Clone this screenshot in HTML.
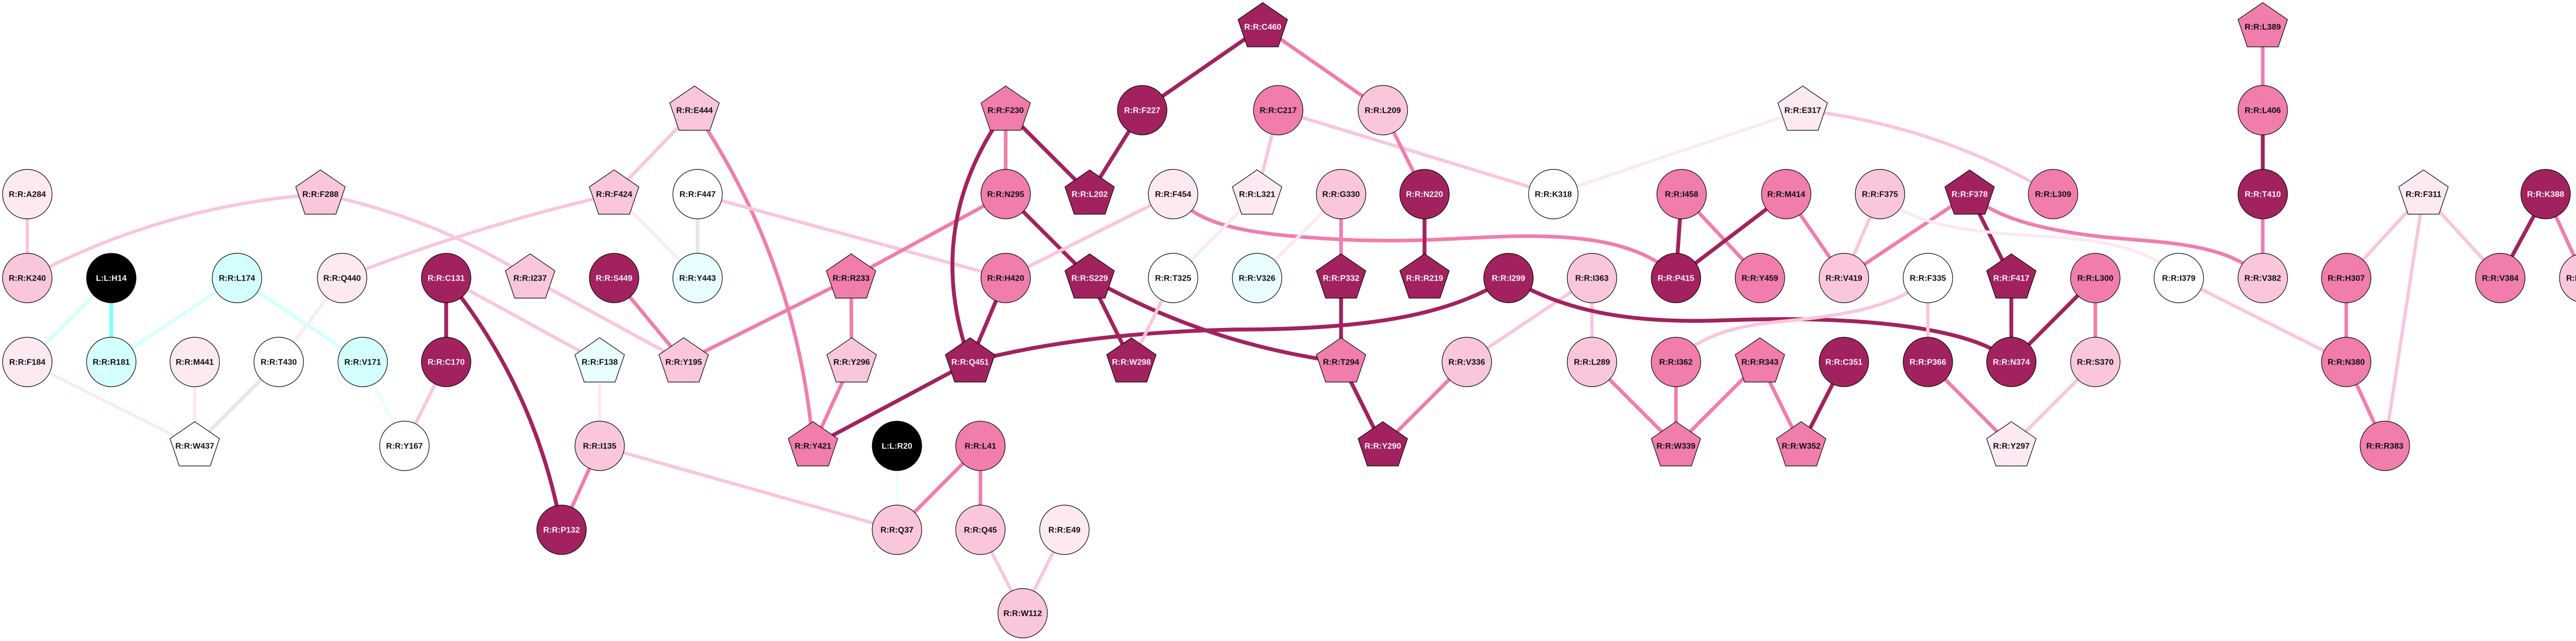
<!DOCTYPE html>
<html><head><meta charset="utf-8">
<style>
html,body{margin:0;padding:0;background:#fff;}
svg{display:block;}
text{font-family:"Liberation Sans",Arial,sans-serif;font-weight:bold;font-size:16px;text-anchor:middle;}
.d{stroke:#a2225f;stroke-width:7.5;fill:none;}
.m{stroke:#f07dab;stroke-width:7;fill:none;}
.p{stroke:#f9c6dc;stroke-width:6.5;fill:none;}
.v{stroke:#fce9f2;stroke-width:6;fill:none;}
.g{stroke:#e6e6e6;stroke-width:7;fill:none;}
.c{stroke:#80ffff;stroke-width:7.5;fill:none;}
.lc{stroke:#d4ffff;stroke-width:6.5;fill:none;}
.vc{stroke:#e9ffff;stroke-width:6;fill:none;}
circle,polygon{stroke:#000;stroke-width:1.2;}
.fd{fill:#a2225f}.fm{fill:#f07dab}.fp{fill:#f9c6dc}.fv{fill:#fce9f2}.fw{fill:#fff}.flc{fill:#d4ffff}.fvc{fill:#e9ffff}.fk{fill:#000}
.tw{fill:#f4f4f4}.tb{fill:#111}
</style></head>
<body>
<svg width="5069" height="1245" viewBox="0 0 5069 1245" xmlns="http://www.w3.org/2000/svg">
<rect width="5069" height="1245" fill="#fff" stroke="none"/>
<!-- edges -->
<line class="p" x1="53" y1="377" x2="53" y2="540"/>
<path class="p" d="M53,540 Q320,398 622,377"/>
<path class="p" d="M622,377 Q840,421 1029,540"/>
<path class="p" d="M664,540 Q922,439 1192,377"/>
<line class="v" x1="664" y1="540" x2="541" y2="703"/>
<line class="lc" x1="216" y1="540" x2="53" y2="703"/>
<line class="c" x1="216" y1="540" x2="216" y2="703"/>
<line class="lc" x1="460" y1="540" x2="216" y2="703"/>
<line class="lc" x1="460" y1="540" x2="704" y2="703"/>
<line class="v" x1="53" y1="703" x2="378" y2="866"/>
<line class="v" x1="378" y1="703" x2="378" y2="866"/>
<line class="g" x1="541" y1="703" x2="378" y2="866"/>
<line class="vc" x1="704" y1="703" x2="785" y2="866"/>
<line class="p" x1="785" y1="866" x2="866" y2="703"/>
<line class="d" x1="866" y1="540" x2="866" y2="703"/>
<path class="d" d="M866,540 Q1041,756 1090,1029"/>
<line class="p" x1="866" y1="540" x2="1164" y2="703"/>
<line class="p" x1="1029" y1="540" x2="1327" y2="703"/>
<line class="m" x1="1192" y1="540" x2="1327" y2="703"/>
<line class="m" x1="1652" y1="540" x2="1327" y2="703"/>
<line class="p" x1="1348" y1="214" x2="1192" y2="377"/>
<path class="m" d="M1348,214 Q1548,510 1578,866"/>
<line class="v" x1="1192" y1="377" x2="1354" y2="540"/>
<line class="g" x1="1354" y1="377" x2="1354" y2="540"/>
<line class="p" x1="1354" y1="377" x2="1952" y2="540"/>
<line class="m" x1="1652" y1="540" x2="1653" y2="703"/>
<line class="m" x1="1652" y1="540" x2="1952" y2="377"/>
<line class="m" x1="1653" y1="703" x2="1578" y2="866"/>
<line class="d" x1="1578" y1="866" x2="1883" y2="703"/>
<line class="v" x1="1164" y1="703" x2="1164" y2="866"/>
<line class="m" x1="1164" y1="866" x2="1090" y2="1029"/>
<line class="p" x1="1164" y1="866" x2="1741" y2="1029"/>
<line class="vc" x1="1741" y1="866" x2="1741" y2="1029"/>
<line class="m" x1="1903" y1="866" x2="1741" y2="1029"/>
<line class="m" x1="1903" y1="866" x2="1903" y2="1029"/>
<line class="p" x1="1903" y1="1029" x2="1985" y2="1191"/>
<line class="p" x1="2066" y1="1029" x2="1985" y2="1191"/>
<line class="m" x1="1952" y1="214" x2="1952" y2="377"/>
<line class="d" x1="1952" y1="214" x2="2115" y2="377"/>
<path class="d" d="M1952,214 Q1789,440 1883,703"/>
<line class="d" x1="2217" y1="214" x2="2115" y2="377"/>
<line class="d" x1="2451" y1="52" x2="2217" y2="214"/>
<line class="m" x1="2451" y1="52" x2="2684" y2="214"/>
<line class="p" x1="2481" y1="214" x2="2440" y2="377"/>
<line class="p" x1="2481" y1="214" x2="3015" y2="377"/>
<line class="d" x1="1952" y1="377" x2="2115" y2="540"/>
<line class="p" x1="1952" y1="540" x2="2277" y2="377"/>
<line class="d" x1="1952" y1="540" x2="1883" y2="703"/>
<path class="m" d="M2277,377 C2330,440 2420,455 2600,465 C2800,475 2900,450 3050,462 C3150,470 3220,500 3253,540"/>
<line class="v" x1="2440" y1="377" x2="2277" y2="540"/>
<line class="v" x1="2440" y1="540" x2="2603" y2="377"/>
<line class="d" x1="2115" y1="540" x2="2196" y2="703"/>
<path class="d" d="M2115,540 Q2343,669 2603,703"/>
<path class="d" d="M1883,703 C1990,675 2150,645 2400,640 C2700,640 2830,600 2928,540"/>
<line class="p" x1="2277" y1="540" x2="2196" y2="703"/>
<line class="m" x1="2684" y1="214" x2="2765" y2="377"/>
<line class="d" x1="2765" y1="377" x2="2765" y2="540"/>
<line class="m" x1="2603" y1="377" x2="2603" y2="540"/>
<line class="d" x1="2603" y1="540" x2="2603" y2="703"/>
<line class="d" x1="2603" y1="703" x2="2684" y2="866"/>
<line class="m" x1="2847" y1="703" x2="2684" y2="866"/>
<line class="p" x1="3090" y1="540" x2="2847" y2="703"/>
<line class="p" x1="3090" y1="540" x2="3090" y2="703"/>
<path class="d" d="M2928,540 C3030,600 3150,630 3350,622 C3550,614 3820,625 3904,703"/>
<line class="v" x1="3015" y1="377" x2="3499" y2="214"/>
<path class="p" d="M3499,214 Q3759,243 3985,377"/>
<line class="d" x1="3264" y1="377" x2="3253" y2="540"/>
<line class="m" x1="3264" y1="377" x2="3416" y2="540"/>
<line class="d" x1="3253" y1="540" x2="3467" y2="377"/>
<line class="m" x1="3467" y1="377" x2="3579" y2="540"/>
<line class="p" x1="3649" y1="377" x2="3579" y2="540"/>
<line class="m" x1="3823" y1="377" x2="3579" y2="540"/>
<line class="d" x1="3823" y1="377" x2="3904" y2="540"/>
<path class="m" d="M3823,377 C3870,420 3950,445 4080,460 C4200,472 4320,470 4392,540"/>
<path class="v" d="M3649,377 C3700,430 3800,450 3950,458 C4080,465 4170,480 4228,540"/>
<path class="p" d="M3742,540 C3680,600 3560,615 3450,625 C3350,635 3290,660 3253,703"/>
<line class="p" x1="3742" y1="540" x2="3742" y2="703"/>
<line class="m" x1="3090" y1="703" x2="3253" y2="866"/>
<line class="m" x1="3253" y1="703" x2="3253" y2="866"/>
<line class="m" x1="3416" y1="703" x2="3253" y2="866"/>
<line class="m" x1="3416" y1="703" x2="3496" y2="866"/>
<line class="d" x1="3579" y1="703" x2="3496" y2="866"/>
<line class="d" x1="3904" y1="540" x2="3904" y2="703"/>
<line class="d" x1="4067" y1="540" x2="3904" y2="703"/>
<line class="m" x1="4067" y1="540" x2="4067" y2="703"/>
<line class="m" x1="3742" y1="703" x2="3904" y2="866"/>
<line class="p" x1="4067" y1="703" x2="3904" y2="866"/>
<line class="m" x1="4392" y1="52" x2="4392" y2="214"/>
<line class="d" x1="4392" y1="214" x2="4392" y2="377"/>
<line class="m" x1="4392" y1="377" x2="4392" y2="540"/>
<line class="p" x1="4229" y1="540" x2="4554" y2="703"/>
<line class="p" x1="4704" y1="377" x2="4554" y2="540"/>
<line class="p" x1="4704" y1="377" x2="4629" y2="866"/>
<line class="p" x1="4704" y1="377" x2="4853" y2="540"/>
<line class="m" x1="4554" y1="540" x2="4554" y2="703"/>
<line class="m" x1="4554" y1="703" x2="4629" y2="866"/>
<line class="d" x1="4941" y1="377" x2="4853" y2="540"/>
<line class="m" x1="4941" y1="377" x2="5016" y2="540"/>

<!-- circle nodes -->
<g>
<circle class="fv" cx="53" cy="377" r="48"/><text class="tb" x="53" y="377" dy="0.35em">R:R:A284</text>
<circle class="fp" cx="53" cy="540" r="48"/><text class="tb" x="53" y="540" dy="0.35em">R:R:K240</text>
<circle class="fk" cx="216" cy="540" r="48"/><text class="tw" x="216" y="540" dy="0.35em">L:L:H14</text>
<circle class="flc" cx="460" cy="540" r="48"/><text class="tb" x="460" y="540" dy="0.35em">R:R:L174</text>
<circle class="fv" cx="664" cy="540" r="48"/><text class="tb" x="664" y="540" dy="0.35em">R:R:Q440</text>
<circle class="fv" cx="53" cy="703" r="48"/><text class="tb" x="53" y="703" dy="0.35em">R:R:F184</text>
<circle class="flc" cx="216" cy="703" r="48"/><text class="tb" x="216" y="703" dy="0.35em">R:R:R181</text>
<circle class="fv" cx="378" cy="703" r="48"/><text class="tb" x="378" y="703" dy="0.35em">R:R:M441</text>
<circle class="fw" cx="541" cy="703" r="48"/><text class="tb" x="541" y="703" dy="0.35em">R:R:T430</text>
<circle class="flc" cx="704" cy="703" r="48"/><text class="tb" x="704" y="703" dy="0.35em">R:R:V171</text>
<circle class="fw" cx="785" cy="866" r="48"/><text class="tb" x="785" y="866" dy="0.35em">R:R:Y167</text>
<circle class="fw" cx="1354" cy="377" r="48"/><text class="tb" x="1354" y="377" dy="0.35em">R:R:F447</text>
<circle class="fd" cx="866" cy="540" r="48"/><text class="tw" x="866" y="540" dy="0.35em">R:R:C131</text>
<circle class="fd" cx="1192" cy="540" r="48"/><text class="tw" x="1192" y="540" dy="0.35em">R:R:S449</text>
<circle class="fvc" cx="1354" cy="540" r="48"/><text class="tb" x="1354" y="540" dy="0.35em">R:R:Y443</text>
<circle class="fd" cx="866" cy="703" r="48"/><text class="tw" x="866" y="703" dy="0.35em">R:R:C170</text>
<circle class="fp" cx="1164" cy="866" r="48"/><text class="tb" x="1164" y="866" dy="0.35em">R:R:I135</text>
<circle class="fd" cx="1090" cy="1029" r="48"/><text class="tw" x="1090" y="1029" dy="0.35em">R:R:P132</text>
<circle class="fk" cx="1741" cy="866" r="48"/><text class="tw" x="1741" y="866" dy="0.35em">L:L:R20</text>
<circle class="fm" cx="1903" cy="866" r="48"/><text class="tb" x="1903" y="866" dy="0.35em">R:R:L41</text>
<circle class="fp" cx="1741" cy="1029" r="48"/><text class="tb" x="1741" y="1029" dy="0.35em">R:R:Q37</text>
<circle class="fp" cx="1903" cy="1029" r="48"/><text class="tb" x="1903" y="1029" dy="0.35em">R:R:Q45</text>
<circle class="fv" cx="2066" cy="1029" r="48"/><text class="tb" x="2066" y="1029" dy="0.35em">R:R:E49</text>
<circle class="fp" cx="1985" cy="1191" r="48"/><text class="tb" x="1985" y="1191" dy="0.35em">R:R:W112</text>
<circle class="fd" cx="2217" cy="214" r="48"/><text class="tw" x="2217" y="214" dy="0.35em">R:R:F227</text>
<circle class="fm" cx="2481" cy="214" r="48"/><text class="tb" x="2481" y="214" dy="0.35em">R:R:C217</text>
<circle class="fm" cx="1952" cy="377" r="48"/><text class="tb" x="1952" y="377" dy="0.35em">R:R:N295</text>
<circle class="fv" cx="2277" cy="377" r="48"/><text class="tb" x="2277" y="377" dy="0.35em">R:R:F454</text>
<circle class="fm" cx="1952" cy="540" r="48"/><text class="tb" x="1952" y="540" dy="0.35em">R:R:H420</text>
<circle class="fw" cx="2277" cy="540" r="48"/><text class="tb" x="2277" y="540" dy="0.35em">R:R:T325</text>
<circle class="fvc" cx="2440" cy="540" r="48"/><text class="tb" x="2440" y="540" dy="0.35em">R:R:V326</text>
<circle class="fp" cx="2684" cy="214" r="48"/><text class="tb" x="2684" y="214" dy="0.35em">R:R:L209</text>
<circle class="fp" cx="2603" cy="377" r="48"/><text class="tb" x="2603" y="377" dy="0.35em">R:R:G330</text>
<circle class="fd" cx="2765" cy="377" r="48"/><text class="tw" x="2765" y="377" dy="0.35em">R:R:N220</text>
<circle class="fw" cx="3015" cy="377" r="48"/><text class="tb" x="3015" y="377" dy="0.35em">R:R:K318</text>
<circle class="fm" cx="3264" cy="377" r="48"/><text class="tb" x="3264" y="377" dy="0.35em">R:R:I458</text>
<circle class="fd" cx="2928" cy="540" r="48"/><text class="tw" x="2928" y="540" dy="0.35em">R:R:I299</text>
<circle class="fp" cx="3090" cy="540" r="48"/><text class="tb" x="3090" y="540" dy="0.35em">R:R:I363</text>
<circle class="fd" cx="3253" cy="540" r="48"/><text class="tw" x="3253" y="540" dy="0.35em">R:R:P415</text>
<circle class="fp" cx="2847" cy="703" r="48"/><text class="tb" x="2847" y="703" dy="0.35em">R:R:V336</text>
<circle class="fp" cx="3090" cy="703" r="48"/><text class="tb" x="3090" y="703" dy="0.35em">R:R:L289</text>
<circle class="fm" cx="3253" cy="703" r="48"/><text class="tb" x="3253" y="703" dy="0.35em">R:R:I362</text>
<circle class="fm" cx="3467" cy="377" r="48"/><text class="tb" x="3467" y="377" dy="0.35em">R:R:M414</text>
<circle class="fp" cx="3649" cy="377" r="48"/><text class="tb" x="3649" y="377" dy="0.35em">R:R:F375</text>
<circle class="fm" cx="3985" cy="377" r="48"/><text class="tb" x="3985" y="377" dy="0.35em">R:R:L309</text>
<circle class="fm" cx="3416" cy="540" r="48"/><text class="tb" x="3416" y="540" dy="0.35em">R:R:Y459</text>
<circle class="fp" cx="3579" cy="540" r="48"/><text class="tb" x="3579" y="540" dy="0.35em">R:R:V419</text>
<circle class="fw" cx="3742" cy="540" r="48"/><text class="tb" x="3742" y="540" dy="0.35em">R:R:F335</text>
<circle class="fm" cx="4067" cy="540" r="48"/><text class="tb" x="4067" y="540" dy="0.35em">R:R:L300</text>
<circle class="fw" cx="4229" cy="540" r="48"/><text class="tb" x="4229" y="540" dy="0.35em">R:R:I379</text>
<circle class="fd" cx="3579" cy="703" r="48"/><text class="tw" x="3579" y="703" dy="0.35em">R:R:C351</text>
<circle class="fd" cx="3742" cy="703" r="48"/><text class="tw" x="3742" y="703" dy="0.35em">R:R:P366</text>
<circle class="fd" cx="3904" cy="703" r="48"/><text class="tw" x="3904" y="703" dy="0.35em">R:R:N374</text>
<circle class="fp" cx="4067" cy="703" r="48"/><text class="tb" x="4067" y="703" dy="0.35em">R:R:S370</text>
<circle class="fm" cx="4392" cy="214" r="48"/><text class="tb" x="4392" y="214" dy="0.35em">R:R:L406</text>
<circle class="fd" cx="4392" cy="377" r="48"/><text class="tw" x="4392" y="377" dy="0.35em">R:R:T410</text>
<circle class="fd" cx="4941" cy="377" r="48"/><text class="tw" x="4941" y="377" dy="0.35em">R:R:K388</text>
<circle class="fp" cx="4392" cy="540" r="48"/><text class="tb" x="4392" y="540" dy="0.35em">R:R:V382</text>
<circle class="fm" cx="4554" cy="540" r="48"/><text class="tb" x="4554" y="540" dy="0.35em">R:R:H307</text>
<circle class="fm" cx="4853" cy="540" r="48"/><text class="tb" x="4853" y="540" dy="0.35em">R:R:V384</text>
<circle class="fp" cx="5016" cy="540" r="48"/><text class="tb" x="5016" y="540" dy="0.35em">R:R:T387</text>
<circle class="fm" cx="4554" cy="703" r="48"/><text class="tb" x="4554" y="703" dy="0.35em">R:R:N380</text>
<circle class="fm" cx="4629" cy="866" r="48"/><text class="tb" x="4629" y="866" dy="0.35em">R:R:R383</text>
</g>

<!-- pentagon nodes -->
<g>
<g transform="translate(622,377)"><polygon class="fp" points="0,-47 48,-14 30,39 -30,39 -48,-14"/><text class="tb" y="0" dy="0.35em">R:R:F288</text></g>
<g transform="translate(378,866)"><polygon class="fw" points="0,-47 48,-14 30,39 -30,39 -48,-14"/><text class="tb" y="0" dy="0.35em">R:R:W437</text></g>
<g transform="translate(1348,214)"><polygon class="fp" points="0,-47 48,-14 30,39 -30,39 -48,-14"/><text class="tb" y="0" dy="0.35em">R:R:E444</text></g>
<g transform="translate(1192,377)"><polygon class="fp" points="0,-47 48,-14 30,39 -30,39 -48,-14"/><text class="tb" y="0" dy="0.35em">R:R:F424</text></g>
<g transform="translate(1029,540)"><polygon class="fp" points="0,-47 48,-14 30,39 -30,39 -48,-14"/><text class="tb" y="0" dy="0.35em">R:R:I237</text></g>
<g transform="translate(1652,540)"><polygon class="fm" points="0,-47 48,-14 30,39 -30,39 -48,-14"/><text class="tb" y="0" dy="0.35em">R:R:R233</text></g>
<g transform="translate(1164,703)"><polygon class="fvc" points="0,-47 48,-14 30,39 -30,39 -48,-14"/><text class="tb" y="0" dy="0.35em">R:R:F138</text></g>
<g transform="translate(1327,703)"><polygon class="fp" points="0,-47 48,-14 30,39 -30,39 -48,-14"/><text class="tb" y="0" dy="0.35em">R:R:Y195</text></g>
<g transform="translate(1653,703)"><polygon class="fp" points="0,-47 48,-14 30,39 -30,39 -48,-14"/><text class="tb" y="0" dy="0.35em">R:R:Y296</text></g>
<g transform="translate(1578,866)"><polygon class="fm" points="0,-47 48,-14 30,39 -30,39 -48,-14"/><text class="tb" y="0" dy="0.35em">R:R:Y421</text></g>
<g transform="translate(2451,52)"><polygon class="fd" points="0,-47 48,-14 30,39 -30,39 -48,-14"/><text class="tw" y="0" dy="0.35em">R:R:C460</text></g>
<g transform="translate(1952,214)"><polygon class="fm" points="0,-47 48,-14 30,39 -30,39 -48,-14"/><text class="tb" y="0" dy="0.35em">R:R:F230</text></g>
<g transform="translate(2115,377)"><polygon class="fd" points="0,-47 48,-14 30,39 -30,39 -48,-14"/><text class="tw" y="0" dy="0.35em">R:R:L202</text></g>
<g transform="translate(2440,377)"><polygon class="fv" points="0,-47 48,-14 30,39 -30,39 -48,-14"/><text class="tb" y="0" dy="0.35em">R:R:L321</text></g>
<g transform="translate(2115,540)"><polygon class="fd" points="0,-47 48,-14 30,39 -30,39 -48,-14"/><text class="tw" y="0" dy="0.35em">R:R:S229</text></g>
<g transform="translate(1883,703)"><polygon class="fd" points="0,-47 48,-14 30,39 -30,39 -48,-14"/><text class="tw" y="0" dy="0.35em">R:R:Q451</text></g>
<g transform="translate(2196,703)"><polygon class="fd" points="0,-47 48,-14 30,39 -30,39 -48,-14"/><text class="tw" y="0" dy="0.35em">R:R:W298</text></g>
<g transform="translate(2603,540)"><polygon class="fd" points="0,-47 48,-14 30,39 -30,39 -48,-14"/><text class="tw" y="0" dy="0.35em">R:R:P332</text></g>
<g transform="translate(2765,540)"><polygon class="fd" points="0,-47 48,-14 30,39 -30,39 -48,-14"/><text class="tw" y="0" dy="0.35em">R:R:R219</text></g>
<g transform="translate(2603,703)"><polygon class="fm" points="0,-47 48,-14 30,39 -30,39 -48,-14"/><text class="tb" y="0" dy="0.35em">R:R:T294</text></g>
<g transform="translate(2684,866)"><polygon class="fd" points="0,-47 48,-14 30,39 -30,39 -48,-14"/><text class="tw" y="0" dy="0.35em">R:R:Y290</text></g>
<g transform="translate(3253,866)"><polygon class="fm" points="0,-47 48,-14 30,39 -30,39 -48,-14"/><text class="tb" y="0" dy="0.35em">R:R:W339</text></g>
<g transform="translate(3499,214)"><polygon class="fv" points="0,-47 48,-14 30,39 -30,39 -48,-14"/><text class="tb" y="0" dy="0.35em">R:R:E317</text></g>
<g transform="translate(3823,377)"><polygon class="fd" points="0,-47 48,-14 30,39 -30,39 -48,-14"/><text class="tw" y="0" dy="0.35em">R:R:F378</text></g>
<g transform="translate(3904,540)"><polygon class="fd" points="0,-47 48,-14 30,39 -30,39 -48,-14"/><text class="tw" y="0" dy="0.35em">R:R:F417</text></g>
<g transform="translate(3416,703)"><polygon class="fm" points="0,-47 48,-14 30,39 -30,39 -48,-14"/><text class="tb" y="0" dy="0.35em">R:R:R343</text></g>
<g transform="translate(3496,866)"><polygon class="fm" points="0,-47 48,-14 30,39 -30,39 -48,-14"/><text class="tb" y="0" dy="0.35em">R:R:W352</text></g>
<g transform="translate(3904,866)"><polygon class="fv" points="0,-47 48,-14 30,39 -30,39 -48,-14"/><text class="tb" y="0" dy="0.35em">R:R:Y297</text></g>
<g transform="translate(4392,52)"><polygon class="fm" points="0,-47 48,-14 30,39 -30,39 -48,-14"/><text class="tb" y="0" dy="0.35em">R:R:L389</text></g>
<g transform="translate(4704,377)"><polygon class="fv" points="0,-47 48,-14 30,39 -30,39 -48,-14"/><text class="tb" y="0" dy="0.35em">R:R:F311</text></g>
</g>
</svg>
</body></html>
